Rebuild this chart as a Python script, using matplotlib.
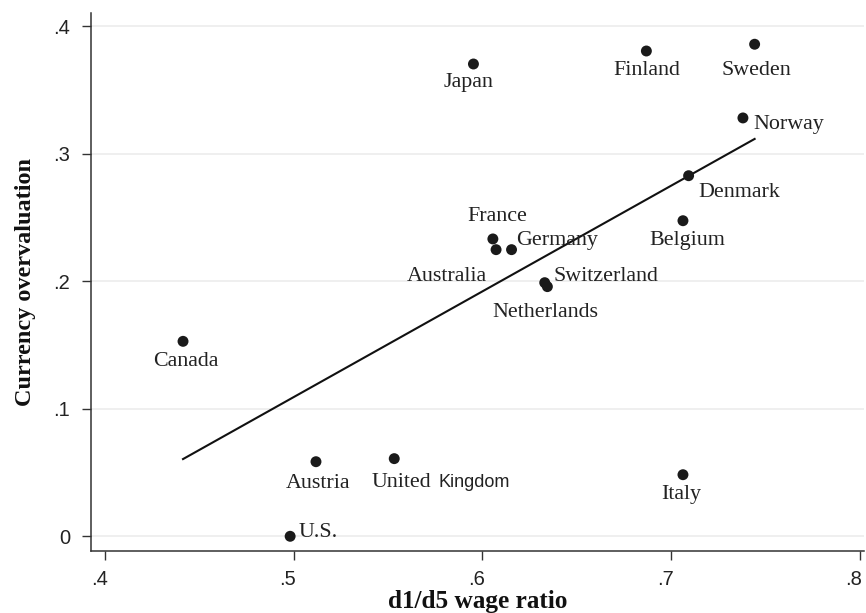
import matplotlib
matplotlib.use('Agg')
import matplotlib.pyplot as plt
import matplotlib.transforms as mtransforms
import numpy as np

# d1/d5 wage ratio vs currency overvaluation
countries = ["Japan", "Finland", "Sweden", "Norway", "Denmark", "Belgium",
             "France", "Australia", "Germany", "Switzerland", "Netherlands",
             "Canada", "Austria", "United Kingdom", "U.S.", "Italy"]
wage_ratio = [0.5952, 0.6869, 0.7443, 0.7381, 0.7093, 0.7063,
              0.6055, 0.6072, 0.6154, 0.6330, 0.6344,
              0.4412, 0.5117, 0.5532, 0.4980, 0.7063]
overval = [0.3704, 0.3806, 0.3859, 0.3281, 0.2828, 0.2475,
           0.2332, 0.2248, 0.2248, 0.1989, 0.1958,
           0.1529, 0.0585, 0.0609, 0.0000, 0.0483]

xticks = [0.4, 0.5, 0.6, 0.7, 0.8]
xticklabels = [".4", ".5", ".6", ".7", ".8"]
yticks = [0.0, 0.1, 0.2, 0.3, 0.4]
yticklabels = ["0", ".1", ".2", ".3", ".4"]

# label placement: (dx px, baseline dy px downward, ha)
label_pos = {
    "Japan": (-5.4, 23, "center"),
    "Finland": (0, 24, "center"),
    "Sweden": (2, 30.7, "center"),
    "Norway": (10, 11, "left"),
    "Denmark": (9.3, 21, "left"),
    "Belgium": (4.4, 24.3, "center"),
    "France": (4.8, -18.3, "center"),
    "Australia": (-9, 31.3, "right"),
    "Germany": (4.3, -4.7, "left"),
    "Switzerland": (8.3, -1.7, "left"),
    "Netherlands": (-2.4, 30, "center"),
    "Canada": (2.5, 24.4, "center"),
    "Austria": (2, 26, "center"),
    "U.S.": (8.7, 0.3, "left"),
    "Italy": (-1.6, 24.6, "center"),
}

fig = plt.figure(figsize=(8.66, 6.13), dpi=100)
ax = fig.add_axes([91/866, 1 - 550.7/613, (864 - 91)/866, (550.7 - 13)/613])

x = np.array(wage_ratio)
y = np.array(overval)

for yt in yticks:
    ax.axhline(yt, color="#eeeeee", lw=1.3, zorder=0)

b, a = np.polyfit(x, y, 1)
xl = np.array([x.min(), x.max()])
ax.plot(xl, a + b*xl, color="#111111", lw=1.5, zorder=2)

ax.scatter(x, y, s=62, color="#1a1a1a", edgecolors="none", zorder=3)

serif = "Liberation Serif"
sans = "Liberation Sans"
for name, xi, yi in zip(countries, wage_ratio, overval):
    if name == "United Kingdom":
        ax.annotate("United", (xi, yi), xytext=(-22.6, -28.6), textcoords="offset pixels",
                    ha="left", va="baseline", fontsize=15.8, family=serif, color="#222222")
        ax.annotate("Kingdom", (xi, yi), xytext=(44.4, -28.6), textcoords="offset pixels",
                    ha="left", va="baseline", fontsize=13, family=sans, color="#222222")
        continue
    dx, dy, ha = label_pos[name]
    ax.annotate(name, (xi, yi), xytext=(dx, -dy), textcoords="offset pixels",
                ha=ha, va="baseline", fontsize=15.8, family=serif, color="#222222")

ax.set_xlim(0.3924, 0.8023)
ax.set_ylim(-0.0113, 0.4104)
ax.set_xticks(xticks)
ax.set_xticklabels(xticklabels, family=sans, fontsize=14.5, color="#222222")
ax.set_yticks(yticks)
ax.set_yticklabels(yticklabels, family=sans, fontsize=14.5, color="#222222")
ax.tick_params(axis="x", length=6.7, width=1, color="#333333", pad=7)
ax.tick_params(axis="y", length=6.7, width=1, color="#333333", pad=8.5)

# x tick labels sit a little left of their ticks in the original
shift = mtransforms.ScaledTranslation(-6/100, 0, fig.dpi_scale_trans)
for lab in ax.get_xticklabels():
    lab.set_transform(lab.get_transform() + shift)

for s in ["top", "right"]:
    ax.spines[s].set_visible(False)
for s in ["left", "bottom"]:
    ax.spines[s].set_color("#333333")
    ax.spines[s].set_linewidth(1.1)

ax.set_xlabel("d1/d5 wage ratio", family=serif, fontweight="bold", fontsize=18.2,
              labelpad=1, color="#111111")
ax.set_ylabel("Currency overvaluation", family=serif, fontweight="bold", fontsize=17.5,
              labelpad=12, color="#111111")

fig.savefig("out.png", dpi=100)
